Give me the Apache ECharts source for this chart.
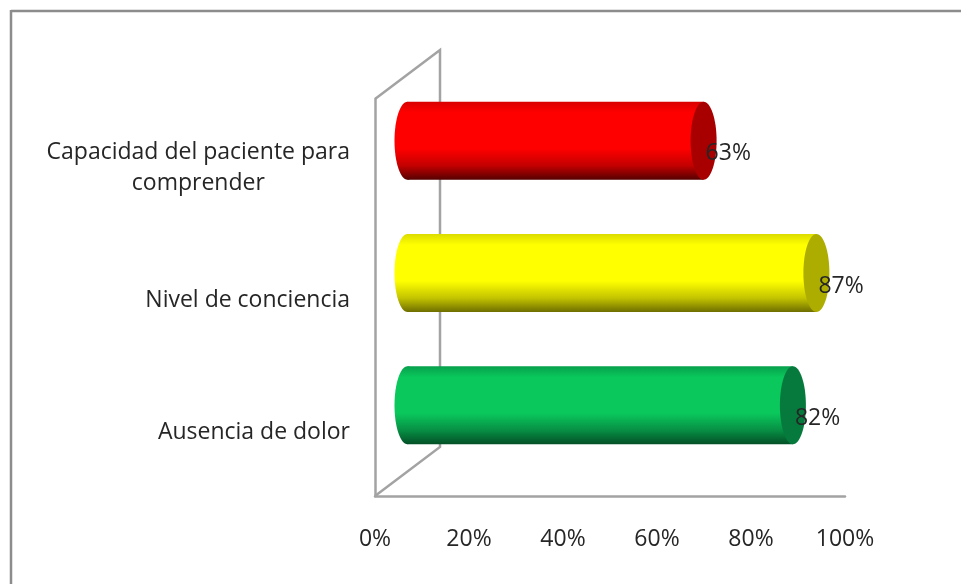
<!DOCTYPE html>
<html>
<head>
<meta charset="utf-8">
<style>html,body{margin:0;padding:0;background:#fff}#c{width:961px;height:584px}</style>
<script src="https://cdn.jsdelivr.net/npm/echarts@6/dist/echarts.min.js"></script>
</head>
<body>
<div id="c"></div>
<script>
const categories = ['Ausencia de dolor', 'Nivel de conciencia', 'Capacidad del paciente para\ncomprender'];
const values = [82, 87, 63];
const tickSuffix = '%';
const palette = [
  {top:'#07a04c', mid:'#0ac85c', low:'#078f44', bottom:'#034f26', cap:'#067a3c'},
  {top:'#dcdc00', mid:'#ffff00', low:'#c4c400', bottom:'#6e6e00', cap:'#adad00'},
  {top:'#d80000', mid:'#ff0000', low:'#c40000', bottom:'#560000', cap:'#a80000'}
];
const FONT = '"Open Sans"';
const FS = 23;
const chart = echarts.init(document.getElementById('c'), null, {renderer:'canvas'});
const DX = 65, DY = 49, RX = 13, RY = 39;

function renderWall(params, api) {
  const bottom = params.coordSys.y + params.coordSys.height;
  const top = params.coordSys.y;
  const x = params.coordSys.x;
  return {
    type: 'polyline', silent: true,
    shape: {points: [[x, top], [x + DX, top - DY], [x + DX, bottom - DY], [x, bottom]]},
    style: {fill: null, stroke: '#a3a3a3', lineWidth: 2.5}
  };
}
function renderBar(params, api) {
  const i = api.value(1), v = api.value(0);
  const c = palette[i];
  const start = api.coord([0, i]);
  const end = api.coord([v, i]);
  const x0 = start[0] + DX / 2, x1 = end[0] + DX / 2, cy = start[1] - DY / 2;
  const grad = new echarts.graphic.LinearGradient(0, 0, 0, 1, [
    {offset: 0, color: c.top}, {offset: 0.14, color: c.mid},
    {offset: 0.6, color: c.mid}, {offset: 0.82, color: c.low},
    {offset: 1, color: c.bottom}
  ]);
  return {
    type: 'group',
    children: [
      {type: 'ellipse', shape: {cx: x0, cy: cy, rx: RX, ry: RY}, style: {fill: grad}},
      {type: 'rect', shape: {x: x0, y: cy - RY, width: x1 - x0, height: RY * 2}, style: {fill: grad}},
      {type: 'ellipse', shape: {cx: x1, cy: cy, rx: RX, ry: RY}, style: {fill: c.cap}},
      {type: 'text', style: {text: v + tickSuffix, x: x1 + 2, y: cy + 13, textAlign: 'left', textVerticalAlign: 'middle',
        font: FS + 'px ' + FONT, fill: '#262626'}}
    ]
  };
}
chart.setOption({
  animation: false,
  backgroundColor: '#fff',
  graphic: [
    {type: 'line', silent: true, shape: {x1: 11, y1: 11, x2: 961, y2: 11}, style: {stroke: '#8c8c8c', lineWidth: 2.5}},
    {type: 'line', silent: true, shape: {x1: 11, y1: 10, x2: 11, y2: 584}, style: {stroke: '#8c8c8c', lineWidth: 2.5}}
  ],
  grid: {left: 375, right: 116, top: 99, bottom: 88},
  xAxis: {
    type: 'value', min: 0, max: 100, interval: 20,
    axisLine: {show: true, lineStyle: {color: '#a3a3a3', width: 2.5}},
    axisTick: {show: false}, splitLine: {show: false},
    axisLabel: {formatter: '{value}' + tickSuffix, fontFamily: FONT, fontSize: FS, color: '#262626', margin: 32}
  },
  yAxis: {
    type: 'category', data: categories,
    axisLine: {show: true, lineStyle: {color: '#a3a3a3', width: 2.5}},
    axisTick: {show: false},
    axisLabel: {
      margin: 25, align: 'right', color: '#262626', fontFamily: FONT, fontSize: FS, padding: [5, 0, 0, 0],
      formatter: s => s.split('\n').map(l => '{a|' + l + '}').join('\n'),
      rich: {a: {align: 'center', lineHeight: 31, fontFamily: FONT, fontSize: FS, color: '#262626'}}
    }
  },
  series: [
    {type: 'custom', coordinateSystem: 'cartesian2d', renderItem: renderWall, data: [[0, 0]], z: 1, silent: true, encode: {x: 0, y: 1}},
    {type: 'custom', coordinateSystem: 'cartesian2d', renderItem: renderBar, z: 2, silent: true, encode: {x: 0, y: 1},
      data: values.map((v, i) => [v, i])}
  ]
});
</script>
</body>
</html>
